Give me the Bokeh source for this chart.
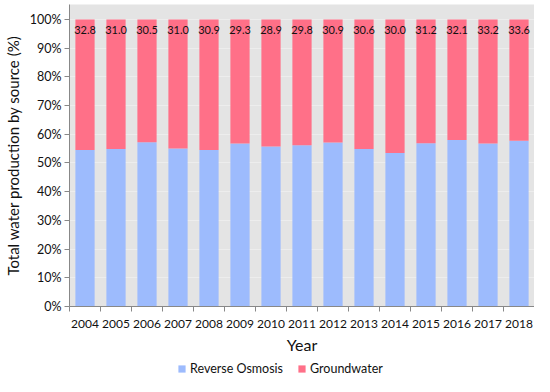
from bokeh.plotting import figure
from bokeh.layouts import column
from bokeh.models import ColumnDataSource, FixedTicker, Legend, LegendItem, NumeralTickFormatter, Range1d
from bokeh.core.properties import value
from bokeh.embed import file_html
from bokeh.resources import INLINE

years = [2004, 2005, 2006, 2007, 2008, 2009, 2010, 2011, 2012, 2013, 2014, 2015, 2016, 2017, 2018]
reverse_osmosis = [54.5, 54.9, 57.2, 55.0, 54.5, 56.8, 55.7, 56.2, 57.1, 54.9, 53.5, 56.9, 58.0, 56.8, 57.7]
groundwater = [round(100 - v, 1) for v in reverse_osmosis]
bar_labels = ["32.8", "31.0", "30.5", "31.0", "30.9", "29.3", "28.9", "29.8", "30.9", "30.6", "30.0", "31.2", "32.1", "33.2", "33.6"]
y_ticks = [0, 10, 20, 30, 40, 50, 60, 70, 80, 90, 100]
series_names = ["Reverse Osmosis", "Groundwater"]

FONT = "Lato"
BLUE = "#9dbbfd"
PINK = "#ff7088"

src = ColumnDataSource(dict(
    year=years,
    ro=reverse_osmosis,
    gw=groundwater,
    label=bar_labels,
    top=[100] * len(years),
    label_y=[96.3] * len(years),
))

p = figure(width=534, height=356, output_backend="svg", toolbar_location=None,
           x_range=Range1d(years[0] - 0.5, years[-1] + 0.5),
           y_range=Range1d(0, 105.2),
           min_border_left=1, min_border_right=0, min_border_top=4, min_border_bottom=48)

p.background_fill_color = "#e4e4e4"
p.border_fill_color = "white"
p.outline_line_color = None

p.vbar(x="year", width=0.62, bottom=0, top="ro", source=src,
       fill_color=BLUE, line_color=None)
p.vbar(x="year", width=0.62, bottom="ro", top="top", source=src,
       fill_color=PINK, line_color=None)

p.text(x="year", y="label_y", text="label", source=src,
       text_align="center", text_baseline="middle",
       text_font=value(FONT), text_font_size="11px", text_color="#111111")

# y axis
p.yaxis.ticker = FixedTicker(ticks=y_ticks)
p.yaxis.formatter = NumeralTickFormatter(format="0")
p.yaxis.major_label_overrides = {t: f"{t}%" for t in y_ticks}
p.yaxis.axis_label = "Total water production by source (%)"
p.yaxis.axis_label_text_font = FONT
p.yaxis.axis_label_text_font_size = "15px"
p.yaxis.axis_label_text_font_style = "normal"
p.yaxis.axis_label_text_color = "#111111"
p.yaxis.major_label_text_font = FONT
p.yaxis.major_label_text_font_size = "12.5px"
p.yaxis.major_label_text_color = "#111111"
p.yaxis.axis_line_color = "#888888"
p.yaxis.major_tick_line_color = "#888888"
p.yaxis.major_tick_out = 5
p.yaxis.major_tick_in = 0
p.yaxis.minor_tick_line_color = None
p.yaxis.major_label_standoff = 3
p.yaxis.axis_label_standoff = 5

# x axis
p.xaxis.ticker = FixedTicker(ticks=years, minor_ticks=[y - 0.5 for y in years] + [years[-1] + 0.5])
p.xaxis.formatter = NumeralTickFormatter(format="0")
p.xaxis.axis_label = "Year"
p.xaxis.axis_label_text_font = FONT
p.xaxis.axis_label_text_font_size = "16px"
p.xaxis.axis_label_text_font_style = "normal"
p.xaxis.axis_label_text_color = "#111111"
p.xaxis.major_label_text_font = FONT
p.xaxis.major_label_text_font_size = "12px"
p.xaxis.major_label_text_color = "#111111"
p.xaxis.axis_line_color = "#888888"
p.xaxis.major_tick_line_color = None
p.xaxis.minor_tick_line_color = "#888888"
p.xaxis.minor_tick_out = 5
p.xaxis.minor_tick_in = 0
p.xaxis.major_label_standoff = 7
p.xaxis.axis_label_standoff = 4

p.xgrid.grid_line_color = None
p.ygrid.grid_line_color = "#ededed"
p.ygrid.grid_line_width = 1

# legend strip: the legend swatches reuse the first bar of each series,
# which lies outside this strip's visible range (only the swatches show)
lg = figure(width=534, height=20, output_backend="svg", toolbar_location=None,
            x_axis_location=None, y_axis_location=None,
            x_range=Range1d(0, 1), y_range=Range1d(0, 1),
            min_border_left=0, min_border_right=0, min_border_top=0, min_border_bottom=0)
lg.outline_line_color = None
lg.grid.visible = False
lsrc = ColumnDataSource(dict(x=years[:1], ro=reverse_osmosis[:1], top=[100]))
r1 = lg.vbar(x="x", top="ro", width=0.62, source=lsrc, fill_color=BLUE, line_color=None)
r2 = lg.vbar(x="x", bottom="ro", top="top", width=0.62, source=lsrc, fill_color=PINK, line_color=None)

legend = Legend(items=[LegendItem(label=series_names[0], renderers=[r1]),
                       LegendItem(label=series_names[1], renderers=[r2])],
                orientation="horizontal", location=(108, 0))
legend.label_text_font = FONT
legend.label_text_font_size = "12.5px"
legend.label_text_color = "#111111"
legend.glyph_width = 9
legend.glyph_height = 9
legend.label_standoff = 4
legend.label_height = 14
legend.spacing = 14
legend.padding = 2
legend.margin = 0
legend.border_line_color = None
legend.background_fill_alpha = 0
lg.add_layout(legend)

layout = column(p, lg, spacing=0)
open("out.html", "w").write(file_html(layout, INLINE))
